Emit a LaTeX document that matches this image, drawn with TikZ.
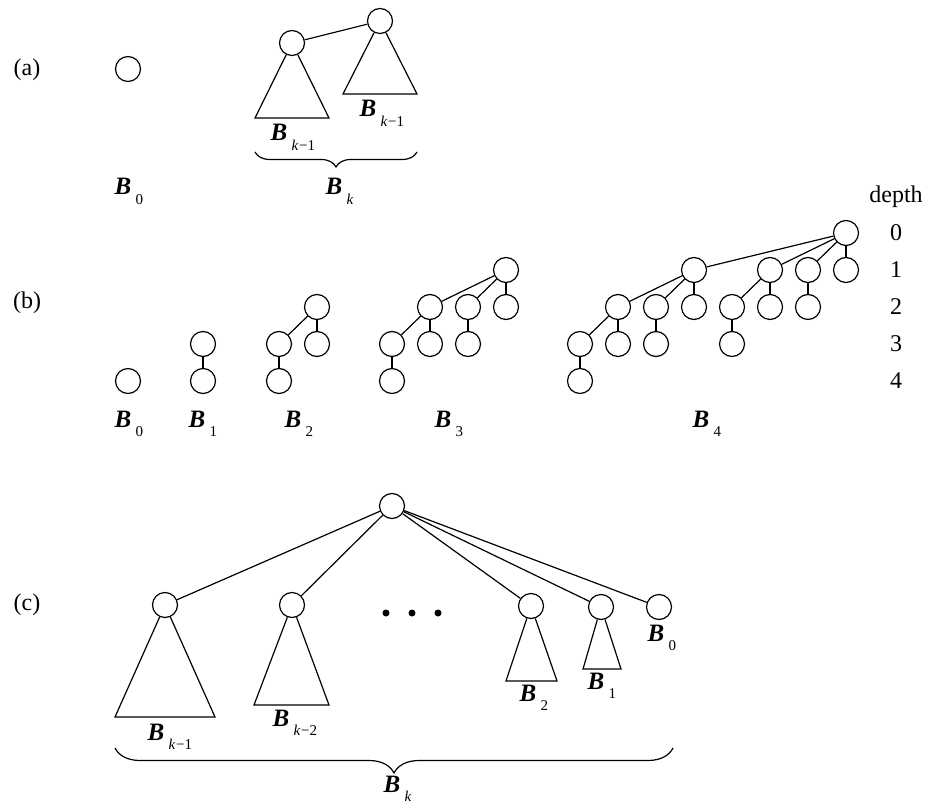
\documentclass[tikz,border=0pt]{standalone}
\usepackage{fontspec}
\setmainfont{Liberation Serif}
\usetikzlibrary{decorations.pathreplacing}
\newcommand{\Bname}[1]{{\fontsize{12.5}{14}\selectfont\textbf{\textit{B}}}\kern2.2pt\raisebox{-4.8pt}{\fontsize{7.5}{8}\selectfont #1}}
\newcommand{\kless}[1]{\textit{k}\kern0.3pt−#1}

\begin{document}
\begin{tikzpicture}[x=0.5pt,y=-0.5pt,line width=0.6pt,font=\fontsize{12}{14}\selectfont,
	tree_node/.style={circle,draw,minimum size=12.5pt,inner sep=0pt},
	dot_node/.style={circle,fill,minimum size=3.5pt,inner sep=0pt},
	b_label/.style={anchor=base west,inner sep=0pt},
	text_label/.style={inner sep=0pt},
	under_brace/.style={decorate,decoration={brace,mirror,amplitude=#1}}]
		\useasboundingbox (0,0) rectangle (929,806);
		
		% (a)
		\node[text_label] (la) at (27,70) {(a)};
		\node[tree_node] (a0) at (128,69) {};
		\node[tree_node] (a1) at (292,43) {};
		\node[tree_node] (a2) at (380,21) {};
		
		\draw (a1) -- (a2);
		\draw (a1) -- (255,118) -- (329,118) -- (a1);
		\draw (a2) -- (343,94) -- (417,94) -- (a2);
		
		\node[b_label] (la0) at (114,195) {\Bname{0}};
		\node[b_label] (la1) at (270,141) {\Bname{\kless{1}}};
		\node[b_label] (la2) at (359,117) {\Bname{\kless{1}}};
		\node[b_label] (lak) at (325,195) {\Bname{\textit{k}}};
		\draw[under_brace=7.5pt] (255,152) -- (417,152);
		
		% (b)
		\node[text_label] (lb) at (27,303) {(b)};
		\node[text_label] (depth) at (896,197) {depth};
		\node[text_label] (d0) at (896,233) {0};
		\node[text_label] (d1) at (896,270) {1};
		\node[text_label] (d2) at (896,307) {2};
		\node[text_label] (d3) at (896,344) {3};
		\node[text_label] (d4) at (896,381) {4};
		
		\node[tree_node] (t0r) at (128,381) {};
		
		\node[tree_node] (t1r) at (203,344) {};
		\node[tree_node] (t1a) at (203,381) {};
		
		\node[tree_node] (t2r) at (317,307) {};
		\node[tree_node] (t2a) at (279,344) {};
		\node[tree_node] (t2b) at (317,344) {};
		\node[tree_node] (t2c) at (279,381) {};
		
		\node[tree_node] (t3r) at (506,270) {};
		\node[tree_node] (t3a) at (430,307) {};
		\node[tree_node] (t3b) at (468,307) {};
		\node[tree_node] (t3c) at (506,307) {};
		\node[tree_node] (t3d) at (392,344) {};
		\node[tree_node] (t3e) at (430,344) {};
		\node[tree_node] (t3f) at (468,344) {};
		\node[tree_node] (t3g) at (392,381) {};
		
		\node[tree_node] (t4r) at (846,233) {};
		\node[tree_node] (t4a) at (694,270) {};
		\node[tree_node] (t4b) at (770,270) {};
		\node[tree_node] (t4c) at (808,270) {};
		\node[tree_node] (t4d) at (846,270) {};
		\node[tree_node] (t4e) at (618,307) {};
		\node[tree_node] (t4f) at (656,307) {};
		\node[tree_node] (t4g) at (694,307) {};
		\node[tree_node] (t4h) at (732,307) {};
		\node[tree_node] (t4i) at (770,307) {};
		\node[tree_node] (t4j) at (808,307) {};
		\node[tree_node] (t4k) at (580,344) {};
		\node[tree_node] (t4l) at (618,344) {};
		\node[tree_node] (t4m) at (656,344) {};
		\node[tree_node] (t4n) at (732,344) {};
		\node[tree_node] (t4o) at (580,381) {};
		
		\draw (t1r) -- (t1a);
		
		\draw (t2r) -- (t2a);
		\draw (t2r) -- (t2b);
		\draw (t2a) -- (t2c);
		
		\draw (t3r) -- (t3a);
		\draw (t3r) -- (t3b);
		\draw (t3r) -- (t3c);
		\draw (t3a) -- (t3d);
		\draw (t3a) -- (t3e);
		\draw (t3b) -- (t3f);
		\draw (t3d) -- (t3g);
		
		\draw (t4r) -- (t4a);
		\draw (t4r) -- (t4b);
		\draw (t4r) -- (t4c);
		\draw (t4r) -- (t4d);
		\draw (t4a) -- (t4e);
		\draw (t4a) -- (t4f);
		\draw (t4a) -- (t4g);
		\draw (t4b) -- (t4h);
		\draw (t4b) -- (t4i);
		\draw (t4c) -- (t4j);
		\draw (t4e) -- (t4k);
		\draw (t4e) -- (t4l);
		\draw (t4f) -- (t4m);
		\draw (t4h) -- (t4n);
		\draw (t4k) -- (t4o);
		
		\node[b_label] (lb0) at (114,427) {\Bname{0}};
		\node[b_label] (lb1) at (188,427) {\Bname{1}};
		\node[b_label] (lb2) at (284,427) {\Bname{2}};
		\node[b_label] (lb3) at (434,427) {\Bname{3}};
		\node[b_label] (lb4) at (692,427) {\Bname{4}};
		
		% (c)
		\node[text_label] (lc) at (27,605) {(c)};
		\node[tree_node] (cr) at (392,506) {};
		\node[tree_node] (c1) at (165,605) {};
		\node[tree_node] (c2) at (292,605) {};
		\node[tree_node] (c3) at (531,606) {};
		\node[tree_node] (c4) at (601,607) {};
		\node[tree_node] (c5) at (659,607) {};
		
		\draw (cr) -- (c1);
		\draw (cr) -- (c2);
		\draw (cr) -- (c3);
		\draw (cr) -- (c4);
		\draw (cr) -- (c5);
		
		\draw (c1) -- (115,717) -- (215,717) -- (c1);
		\draw (c2) -- (254,705) -- (329,705) -- (c2);
		\draw (c3) -- (506,681) -- (557,681) -- (c3);
		\draw (c4) -- (583,669) -- (621,669) -- (c4);
		
		\node[dot_node] (dot1) at (386,613) {};
		\node[dot_node] (dot2) at (412,613) {};
		\node[dot_node] (dot3) at (438,613) {};
		
		\node[b_label] (lc1) at (147,740) {\Bname{\kless{1}}};
		\node[b_label] (lc2) at (272,726) {\Bname{\kless{2}}};
		\node[b_label] (lc3) at (519,701) {\Bname{2}};
		\node[b_label] (lc4) at (587,689) {\Bname{1}};
		\node[b_label] (lc5) at (647,641) {\Bname{0}};
		\node[b_label] (lck) at (383,792) {\Bname{\textit{k}}};
		\draw[under_brace=12.5pt] (115,748) -- (673,748);
		\end{tikzpicture}
\end{document}
